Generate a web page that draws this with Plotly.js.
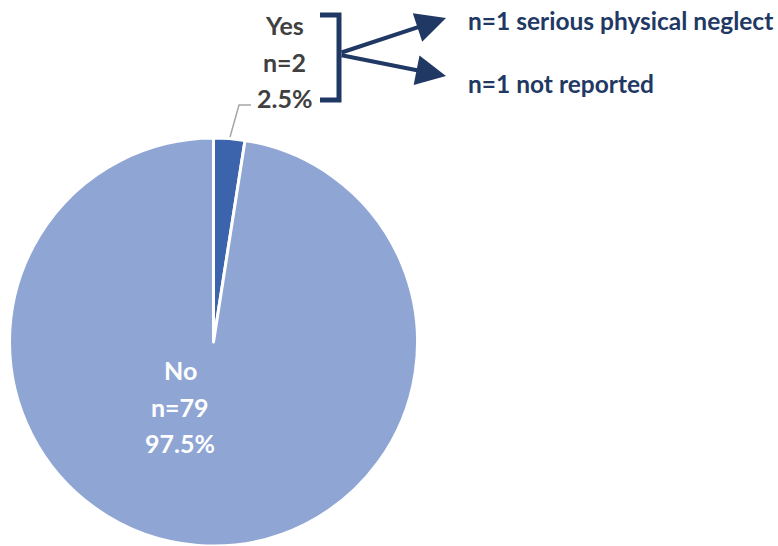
<!DOCTYPE html>
<html>
<head>
<meta charset="utf-8">
<script src="https://cdn.plot.ly/plotly-3.0.1.min.js"></script>
<style>html,body{margin:0;padding:0;background:#fff;}#chart{width:778px;height:546px;}</style>
</head>
<body>
<div id="chart"></div>
<script>
// Data
const categories = ['Yes', 'No'];
const counts = [2, 79];
const sliceColors = ['#3B64AD', '#8FA5D4'];
const yesBreakdownCounts = [1, 1];
const yesBreakdownLabels = ['serious physical neglect', 'not reported'];

const W = 778, H = 546;
const px = x => x / W;
const py = y => 1 - y / H;
const total = counts.reduce((a, b) => a + b, 0);
const pct = counts.map(c => (100 * c / total).toFixed(1) + '%');
const labelLines = i => [categories[i], 'n=' + counts[i], pct[i]];

const navy = '#1F3864';
const gray = '#404040';
const FONT = 'Lato, "Open Sans", sans-serif';

const trace = {
  type: 'pie',
  labels: categories,
  values: counts,
  sort: false,
  direction: 'clockwise',
  rotation: 0,
  marker: { colors: sliceColors, line: { color: '#ffffff', width: 3 } },
  textinfo: 'none',
  hoverinfo: 'label+value+percent',
  showlegend: false,
  domain: { x: [px(9.5), px(417.5)], y: [0, py(138)] }
};

const annotations = [];
const labelPos = [
  { x: 284, ys: [25, 62, 98], color: gray },
  { x: 180, ys: [370, 407, 443], color: '#ffffff' }
];
labelPos.forEach((p, i) => {
  labelLines(i).forEach((t, j) => {
    annotations.push({ xref: 'paper', yref: 'paper', x: px(p.x), y: py(p.ys[j]), text: t, showarrow: false,
      font: { family: FONT, size: 25, color: p.color, weight: 'bold' }, xanchor: 'center', yanchor: 'middle' });
  });
});
const subY = [21, 83];
const tipY = [18, 76];
const startY = [53, 55];
yesBreakdownLabels.forEach((lab, i) => {
  annotations.push({ xref: 'paper', yref: 'paper', x: px(466), y: py(subY[i]),
    text: 'n=' + yesBreakdownCounts[i] + ' ' + lab, showarrow: false,
    font: { family: FONT, size: 24.5, color: navy, weight: 'bold' }, xanchor: 'left', yanchor: 'middle' });
  annotations.push({ xref: 'paper', yref: 'paper', x: px(446), y: py(tipY[i]), text: '',
    showarrow: true, axref: 'pixel', ayref: 'pixel', ax: 340 - 446, ay: startY[i] - tipY[i],
    arrowhead: 2, arrowsize: 1.5, arrowwidth: 4, arrowcolor: navy, standoff: 0, startstandoff: 0 });
});

const shapes = [
  // bracket
  { type: 'path', xref: 'paper', yref: 'paper',
    path: 'M ' + px(320) + ' ' + py(15) + ' L ' + px(339) + ' ' + py(15) + ' L ' + px(339) + ' ' + py(100) + ' L ' + px(320) + ' ' + py(100),
    line: { color: navy, width: 5 }, fillcolor: 'rgba(0,0,0,0)' },
  // leader line for Yes label
  { type: 'path', xref: 'paper', yref: 'paper',
    path: 'M ' + px(230) + ' ' + py(137) + ' L ' + px(239) + ' ' + py(105) + ' L ' + px(251) + ' ' + py(105),
    line: { color: '#A6A6A6', width: 1.5 }, fillcolor: 'rgba(0,0,0,0)' }
];

Plotly.newPlot('chart', [trace], {
  width: W, height: H,
  margin: { l: 0, r: 0, t: 0, b: 0 },
  paper_bgcolor: '#ffffff',
  font: { family: FONT },
  annotations: annotations,
  shapes: shapes
}, { displayModeBar: false, staticPlot: true });
</script>
</body>
</html>
